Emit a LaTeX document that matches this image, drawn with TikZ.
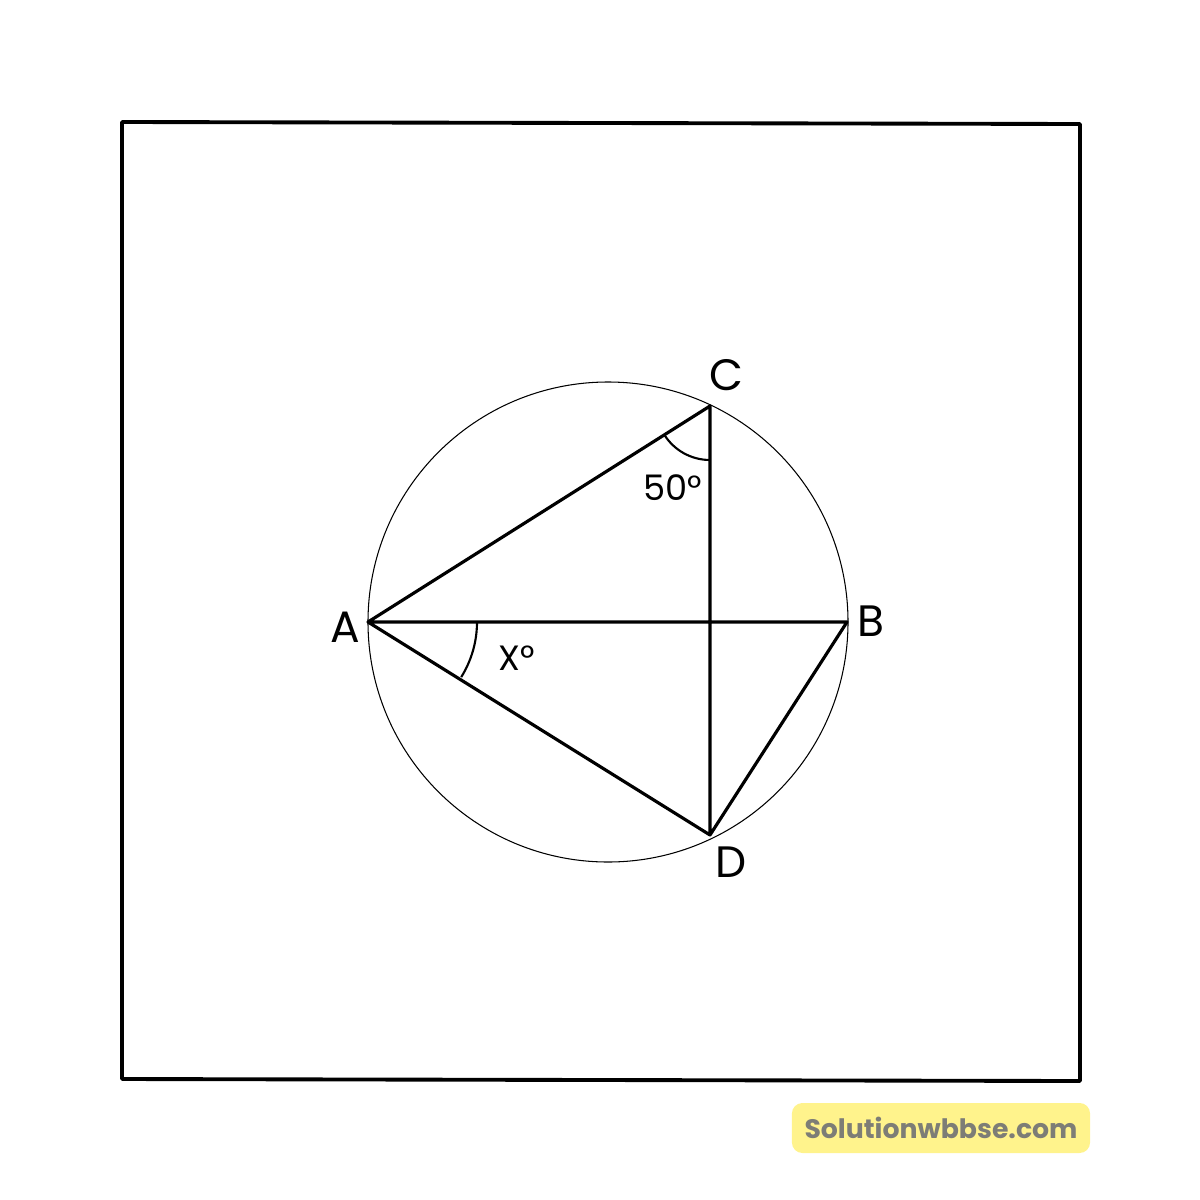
\documentclass[tikz,border=0pt]{standalone}
\usepackage{fontspec}
\setmainfont{Poppins}
\definecolor{markyellow}{RGB}{255, 243, 140}
\definecolor{markgray}{RGB}{125, 125, 118}
\usepackage{tikz}
\usetikzlibrary{positioning, calc}

\begin{document}
\begin{tikzpicture}[x=0.01cm, y=-0.01cm,
  edge/.style={line width=0.9pt, line cap=round, line join=round},
  ptlabel/.style={font=\fontsize{12.5}{14}\selectfont, inner sep=0pt},
  anglabel/.style={font=\fontsize{10}{12}\selectfont, inner sep=0pt}]
  \useasboundingbox (0,0) rectangle (1200,1200);
  % outer frame
  \draw[edge, line width=1.1pt] (122,122) -- (1080,124) -- (1080,1081) -- (122,1079) -- cycle;
  % circle and points
  \coordinate (O) at (608,622);
  \draw[line width=0.3pt] (O) circle[radius=240];
  \coordinate (A) at (368,622);
  \coordinate (B) at (847,622);
  \coordinate (C) at (710,406);
  \coordinate (D) at (710,835);
  \draw[edge] (A) -- (C) -- (D) -- (A) -- (B) -- (D);
  % angle marks
  \draw[line width=0.6pt] ([shift={(147.7:54)}]C) arc[start angle=147.7, end angle=90, radius=54];
  \draw[line width=0.6pt] ([shift={(0:109)}]A) arc[start angle=0, end angle=32, radius=104];
  % labels
  \node[ptlabel] (labA) at (345,627) {A};
  \node[ptlabel] (labB) at (871,621) {B};
  \node[ptlabel] (labC) at (726,375) {C};
  \node[ptlabel] (labD) at (731,862) {D};
  \node[anglabel] (ang50) at (673,488) {50°};
  \node[anglabel] (angX) at (517,658) {X°};
  % watermark
  \node[fill=markyellow, rounded corners=3pt, minimum width=2.98cm, minimum height=0.5cm,
        text=markgray, font=\fontsize{7.6}{9}\selectfont\bfseries, inner sep=0pt]
        (mark) at (941,1128) {Solutionwbbse.com};
\end{tikzpicture}
\end{document}
